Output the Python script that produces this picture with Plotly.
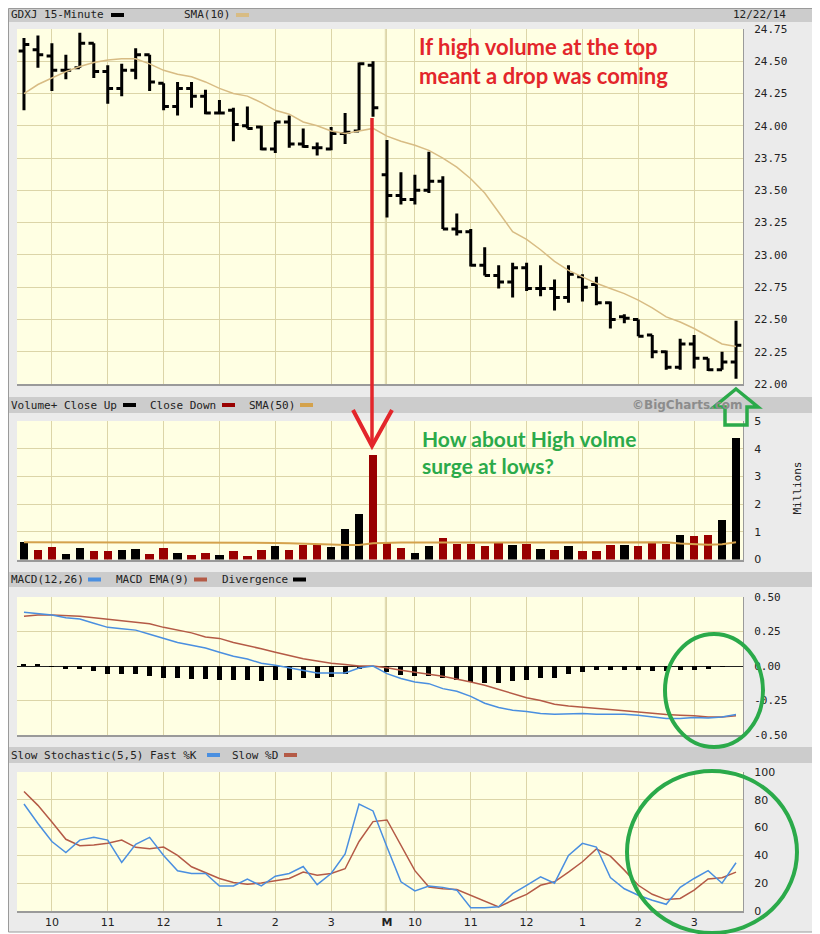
import plotly.graph_objects as go

# ---------------- data ----------------
bars = list(range(52))  # 15-minute bars, Fri 12/19 + Mon 12/22

opens = [24.58, 24.59, 24.54, 24.43, 24.45, 24.64, 24.42, 24.29, 24.43, 24.55,
         24.33, 24.15, 24.29, 24.23, 24.10, 24.12, 24.00, 23.99, 23.82, 24.03,
         23.86, 23.83, 23.82, 23.94, 23.96, 24.47, 23.62, 23.46,
         23.43, 23.50, 23.57, 23.20, 23.18, 22.92, 22.84, 22.79, 22.90, 22.74,
         22.74, 22.67, 22.83, 22.77, 22.63, 22.52, 22.50, 22.38, 22.25, 22.13,
         22.31, 22.20, 22.11, 22.17]
highs = [24.68, 24.70, 24.64, 24.55, 24.72, 24.64, 24.47, 24.48, 24.60, 24.55,
         24.33, 24.34, 24.34, 24.28, 24.20, 24.14, 24.15, 24.00, 24.03, 24.08,
         23.98, 23.87, 23.99, 24.10, 24.49, 24.50, 23.89, 23.64,
         23.62, 23.80, 23.61, 23.32, 23.20, 23.06, 22.92, 22.94, 22.94, 22.92,
         22.81, 22.92, 22.85, 22.83, 22.64, 22.54, 22.50, 22.38, 22.26, 22.35,
         22.38, 22.20, 22.25, 22.49]
lows = [24.12, 24.45, 24.27, 24.36, 24.45, 24.37, 24.17, 24.23, 24.36, 24.27,
        24.12, 24.08, 24.14, 24.09, 24.09, 23.88, 23.98, 23.81, 23.79, 23.83,
        23.83, 23.77, 23.81, 23.86, 23.96, 24.07, 23.29, 23.39,
        23.39, 23.48, 23.20, 23.15, 22.91, 22.84, 22.74, 22.67, 22.72, 22.68,
        22.57, 22.63, 22.64, 22.61, 22.43, 22.47, 22.37, 22.20, 22.11, 22.11,
        22.12, 22.10, 22.11, 22.04]
closes = [24.63, 24.55, 24.43, 24.43, 24.64, 24.42, 24.29, 24.43, 24.55, 24.34,
          24.15, 24.29, 24.23, 24.10, 24.10, 24.01, 23.98, 23.82, 24.03, 23.86,
          23.84, 23.83, 23.94, 23.95, 24.48, 24.14, 23.46, 23.43,
          23.50, 23.57, 23.20, 23.18, 22.92, 22.84, 22.79, 22.90, 22.74, 22.74,
          22.67, 22.85, 22.75, 22.63, 22.50, 22.51, 22.37, 22.25, 22.13, 22.31,
          22.20, 22.11, 22.17, 22.30]
sma10 = [24.25, 24.32, 24.37, 24.42, 24.46, 24.49, 24.51, 24.52, 24.52, 24.48,
         24.43, 24.40, 24.38, 24.34, 24.29, 24.25, 24.23, 24.18, 24.12, 24.09,
         24.03, 24.00, 23.96, 23.94, 23.96, 23.98, 23.92, 23.88,
         23.85, 23.81, 23.75, 23.68, 23.59, 23.48, 23.33, 23.18, 23.12, 23.04,
         22.95, 22.88, 22.83, 22.78, 22.74, 22.70, 22.65, 22.59, 22.52, 22.48,
         22.43, 22.37, 22.31, 22.29]

volume = [0.64, 0.34, 0.44, 0.19, 0.40, 0.30, 0.30, 0.34, 0.39, 0.19,
          0.40, 0.25, 0.18, 0.22, 0.18, 0.30, 0.13, 0.34, 0.48, 0.34,
          0.52, 0.55, 0.44, 1.09, 1.64, 3.77, 0.58, 0.40,
          0.25, 0.48, 0.76, 0.56, 0.56, 0.48, 0.62, 0.52, 0.56, 0.39,
          0.34, 0.48, 0.32, 0.32, 0.52, 0.52, 0.48, 0.58, 0.56, 0.88,
          0.85, 0.88, 1.43, 4.38]
vol_dir = ['U', 'D', 'D', 'U', 'U', 'D', 'D', 'U', 'U', 'D',
           'D', 'U', 'D', 'D', 'U', 'D', 'D', 'D', 'U', 'D',
           'D', 'D', 'U', 'U', 'U', 'D', 'D', 'D',
           'U', 'U', 'D', 'D', 'D', 'D', 'D', 'U', 'D', 'U',
           'D', 'U', 'D', 'D', 'D', 'U', 'D', 'D', 'D', 'U',
           'D', 'D', 'U', 'U']
vol_sma50 = [0.62, 0.62, 0.62, 0.62, 0.62, 0.62, 0.62, 0.62, 0.62, 0.62,
             0.62, 0.62, 0.62, 0.62, 0.62, 0.62, 0.62, 0.61, 0.60, 0.59,
             0.58, 0.56, 0.54, 0.52, 0.52, 0.59, 0.61, 0.61,
             0.61, 0.61, 0.61, 0.61, 0.61, 0.61, 0.62, 0.62, 0.62, 0.62,
             0.62, 0.62, 0.62, 0.62, 0.62, 0.62, 0.62, 0.62, 0.62, 0.58,
             0.55, 0.53, 0.55, 0.62]

macd = [0.39, 0.38, 0.37, 0.35, 0.34, 0.31, 0.28, 0.27, 0.26, 0.23,
        0.20, 0.17, 0.15, 0.13, 0.10, 0.07, 0.05, 0.02, 0.005, -0.015,
        -0.03, -0.05, -0.05, -0.05, -0.015, 0.0, -0.055, -0.09,
        -0.116, -0.128, -0.164, -0.183, -0.22, -0.27, -0.30, -0.32, -0.33, -0.345,
        -0.35, -0.345, -0.345, -0.35, -0.35, -0.35, -0.357, -0.37, -0.38, -0.38,
        -0.373, -0.376, -0.37, -0.352]
macd_ema = [0.36, 0.37, 0.37, 0.366, 0.36, 0.35, 0.34, 0.33, 0.32, 0.306,
            0.28, 0.26, 0.24, 0.21, 0.20, 0.17, 0.15, 0.125, 0.10, 0.077,
            0.053, 0.036, 0.02, 0.01, 0.0, 0.0, -0.012, -0.03,
            -0.043, -0.06, -0.075, -0.094, -0.116, -0.14, -0.17, -0.20, -0.23, -0.25,
            -0.277, -0.29, -0.30, -0.31, -0.316, -0.325, -0.333, -0.345, -0.352, -0.357,
            -0.36, -0.37, -0.37, -0.36]
divergence = [0.017, 0.01, -0.005, -0.02, -0.02, -0.036, -0.06, -0.06, -0.06, -0.07,
              -0.084, -0.084, -0.094, -0.094, -0.10, -0.10, -0.10, -0.11, -0.10, -0.10,
              -0.09, -0.084, -0.08, -0.06, -0.02, -0.005, -0.043, -0.067,
              -0.075, -0.075, -0.09, -0.10, -0.116, -0.12, -0.12, -0.11, -0.10, -0.09,
              -0.084, -0.06, -0.043, -0.03, -0.03, -0.03, -0.03, -0.036, -0.036, -0.03,
              -0.027, -0.02, -0.007, 0.0]

fast_k = [77, 63, 50, 42, 51, 53, 51, 35, 48, 53,
          40, 29, 27, 27, 18, 18, 23, 18, 25, 27,
          32, 19, 27, 41, 77, 72, 46, 21,
          14.5, 18, 17, 15, 2.4, 2.4, 3, 12.5, 18.5, 24.6,
          20, 40, 48.7, 46, 24, 16, 11.3, 7.7, 4.8, 17,
          23.4, 29, 20, 34.7]
slow_d = [86, 76, 64, 51.6, 47, 47.5, 48.7, 51, 45.8, 44.8,
          46, 40, 31.8, 27.5, 23.4, 20.5, 19.3, 20.2, 22, 23.4,
          28, 25.8, 27, 30.4, 50, 64.3, 65.5, 47,
          29, 17.3, 16, 15.4, 11.3, 7.2, 2.9, 7.7, 12, 18.5,
          21, 28, 35.4, 44.6, 39.5, 29.4, 18.5, 12, 8.2, 9,
          15, 23, 24, 28]

hour_ticks = [2, 6, 10, 14, 18, 22, 26, 28, 32, 36, 40, 44, 48]
hour_labels = ['10', '11', '12', '1', '2', '3', '<b>M</b>', '10', '11', '12', '1', '2', '3']
price_ticks = [22.0, 22.25, 22.5, 22.75, 23.0, 23.25, 23.5, 23.75, 24.0, 24.25, 24.5, 24.75]
vol_ticks = [0, 1, 2, 3, 4, 5]
macd_ticks = [-0.5, -0.25, 0.0, 0.25, 0.5]
stoch_ticks = [0, 20, 40, 60, 80, 100]

# ---------------- styling ----------------
# the page body keeps its 8px margin, so the figure is 8px smaller than the window
# and every position below is given in window pixels
OFF = 8
W, H = 820 - OFF, 934 - OFF
PLOT_BG = '#FFFFE3'
GRID = '#DCD5A8'
FRAME = '#9A9A9A'
MONO = 'DejaVu Sans Mono'
SANS = 'DejaVu Sans'
RED_NOTE = '#E3262B'
GREEN_NOTE = '#2BAA4A'
BLUE = '#4A8FE0'
BROWN = '#B45A46'


def X(p):
    return (p - OFF) / W


def Y(p):
    return 1 - (p - OFF) / H


x_dom = [X(17), X(743)]
x_range = [-0.5, 51.5]

fig = go.Figure()

# price
fig.add_trace(go.Ohlc(
    x=bars, open=opens, high=highs, low=lows, close=closes,
    increasing=dict(line=dict(color='black', width=3)),
    decreasing=dict(line=dict(color='black', width=3)),
    tickwidth=0.38, xaxis='x', yaxis='y', hoverinfo='skip', showlegend=False
))
fig.add_trace(go.Scatter(
    x=bars, y=sma10, mode='lines', line=dict(color='#D8BC84', width=1.5),
    xaxis='x', yaxis='y', hoverinfo='skip', showlegend=False
))

# volume
fig.add_trace(go.Bar(
    x=bars, y=volume, width=0.6,
    marker=dict(color=['#000000' if d == 'U' else '#990000' for d in vol_dir], line=dict(width=0)),
    xaxis='x2', yaxis='y2', hoverinfo='skip', showlegend=False
))
fig.add_trace(go.Scatter(
    x=bars, y=vol_sma50, mode='lines', line=dict(color='#D4A24C', width=2),
    xaxis='x2', yaxis='y2', hoverinfo='skip', showlegend=False
))

# macd
fig.add_trace(go.Bar(
    x=bars, y=divergence, width=0.36, marker=dict(color='black', line=dict(width=0)),
    xaxis='x3', yaxis='y3', hoverinfo='skip', showlegend=False
))
fig.add_trace(go.Scatter(
    x=bars, y=macd_ema, mode='lines', line=dict(color=BROWN, width=1.5),
    xaxis='x3', yaxis='y3', hoverinfo='skip', showlegend=False
))
fig.add_trace(go.Scatter(
    x=bars, y=macd, mode='lines', line=dict(color=BLUE, width=1.5),
    xaxis='x3', yaxis='y3', hoverinfo='skip', showlegend=False
))

# stochastic
fig.add_trace(go.Scatter(
    x=bars, y=slow_d, mode='lines', line=dict(color=BROWN, width=1.5),
    xaxis='x4', yaxis='y4', hoverinfo='skip', showlegend=False
))
fig.add_trace(go.Scatter(
    x=bars, y=fast_k, mode='lines', line=dict(color=BLUE, width=1.5),
    xaxis='x4', yaxis='y4', hoverinfo='skip', showlegend=False
))


def xaxis_cfg(anchor, labels=False):
    return dict(
        domain=x_dom, range=x_range, anchor=anchor, automargin=False,
        tickmode='array', tickvals=hour_ticks, ticktext=hour_labels,
        showticklabels=labels, ticks='', showgrid=True, gridcolor=GRID, gridwidth=1,
        zeroline=False, showline=True, linecolor=FRAME, linewidth=2,
        tickfont=dict(family=SANS, size=11, color='#222'),
        rangeslider=dict(visible=False), fixedrange=True
    )


def yaxis_cfg(anchor, top, bottom, rng, ticks, text, font_family):
    return dict(
        domain=[Y(bottom), Y(top)], range=rng, anchor=anchor, side='right', automargin=False,
        tickmode='array', tickvals=ticks, ticktext=text, ticks='',
        ticklabelstandoff=8,
        showgrid=True, gridcolor=GRID, gridwidth=1, zeroline=False,
        showline=True, linecolor=FRAME, linewidth=1,
        tickfont=dict(family=font_family, size=11, color='#222'), fixedrange=True
    )


fig.update_layout(
    template='none',
    width=W, height=H, margin=dict(l=0, r=0, t=0, b=0, pad=0, autoexpand=False),
    paper_bgcolor='#EBEBEB', plot_bgcolor=PLOT_BG,
    showlegend=False, hovermode=False, bargap=0,
    xaxis=xaxis_cfg('y'),
    yaxis=yaxis_cfg('x', 29, 384, [22.0, 24.75], price_ticks,
                    ['%.2f' % v for v in price_ticks], MONO),
    xaxis2=xaxis_cfg('y2'),
    yaxis2=yaxis_cfg('x2', 421, 559.5, [0, 5], vol_ticks,
                     [str(v) for v in vol_ticks], SANS),
    xaxis3=xaxis_cfg('y3'),
    yaxis3=yaxis_cfg('x3', 597, 735, [-0.5, 0.5], macd_ticks,
                     ['%.2f' % v for v in macd_ticks], MONO),
    xaxis4=xaxis_cfg('y4', labels=True),
    yaxis4=yaxis_cfg('x4', 772, 911, [0, 100], stoch_ticks,
                     [str(v) for v in stoch_ticks], SANS),
)
fig.update_layout(yaxis3=dict(zeroline=True, zerolinecolor='#222', zerolinewidth=1))

shapes = []
# white surround on the right / bottom and the chart frame
for x0, y0, x1, y1 in [(815, 0, 820, 934), (0, 932, 820, 934)]:
    shapes.append(dict(type='rect', xref='paper', yref='paper', x0=X(x0), x1=X(x1), y0=Y(y1), y1=Y(y0),
                       fillcolor='white', line=dict(width=0), layer='below'))
shapes.append(dict(type='rect', xref='paper', yref='paper', x0=X(8.5), x1=X(815), y0=Y(932), y1=Y(8.5),
                   fillcolor='rgba(0,0,0,0)', line=dict(color=FRAME, width=1), layer='below'))

# panel header bars
for top, bottom in [(9, 22), (397, 413), (572, 587), (747, 763)]:
    shapes.append(dict(type='rect', xref='paper', yref='paper', x0=X(9), x1=X(814), y0=Y(bottom), y1=Y(top),
                       fillcolor='#CCCCCC', line=dict(width=0), layer='below'))

# day separator (double grid line)
for xa, ya in [('x', 'y'), ('x2', 'y2'), ('x3', 'y3'), ('x4', 'y4')]:
    shapes.append(dict(type='line', xref=xa, yref=ya + ' domain', x0=25.88, x1=25.88, y0=0, y1=1,
                       line=dict(color=GRID, width=1), layer='below'))

annotations = []


def header_text(x, y, text):
    annotations.append(dict(xref='paper', yref='paper', x=X(x), y=Y(y), text=text, showarrow=False,
                            xanchor='left', yanchor='middle',
                            font=dict(family=MONO, size=11, color='#222')))


def swatch(x, y, color):
    shapes.append(dict(type='rect', xref='paper', yref='paper', x0=X(x), x1=X(x + 13),
                       y0=Y(y + 2), y1=Y(y - 2), fillcolor=color, line=dict(width=0)))


header_text(9, 15, 'GDXJ 15-Minute')
swatch(111, 15, 'black')
header_text(182, 15, 'SMA(10)')
swatch(236, 15, '#D8BC84')
annotations.append(dict(xref='paper', yref='paper', x=X(788), y=Y(15), text='12/22/14', showarrow=False,
                        xanchor='right', yanchor='middle', font=dict(family=MONO, size=11, color='#222')))

header_text(9, 405, 'Volume+ Close Up')
swatch(123, 405, 'black')
header_text(148, 405, 'Close Down')
swatch(222, 405, '#990000')
header_text(247, 405, 'SMA(50)')
swatch(300, 405, '#D4A24C')
annotations.append(dict(xref='paper', yref='paper', x=X(745), y=Y(405), text='©BigCharts.com', showarrow=False,
                        xanchor='right', yanchor='middle',
                        font=dict(family=SANS, size=12, color='#8C8C8C', weight='bold')))

header_text(9, 579.5, 'MACD(12,26)')
swatch(88, 579.5, BLUE)
header_text(114, 579.5, 'MACD EMA(9)')
swatch(194, 579.5, BROWN)
header_text(220, 579.5, 'Divergence')
swatch(293, 579.5, 'black')

header_text(9, 755, 'Slow Stochastic(5,5) Fast %K')
swatch(207, 755, BLUE)
header_text(230, 755, 'Slow %D')
swatch(284, 755, BROWN)

annotations.append(dict(xref='paper', yref='paper', x=X(805), y=Y(488), text='Millions', showarrow=False,
                        textangle=-90, font=dict(family=MONO, size=11, color='#222')))

# hand-drawn notes
annotations.append(dict(xref='paper', yref='paper', x=X(417), y=Y(31),
                        text='If high volume at the top<br>meant a drop was coming',
                        showarrow=False, xanchor='left', yanchor='top', align='left',
                        font=dict(family='Lato', size=22, color=RED_NOTE, weight='bold')))
annotations.append(dict(xref='paper', yref='paper', x=X(420), y=Y(424),
                        text='How about High volme<br>surge at lows?',
                        showarrow=False, xanchor='left', yanchor='top', align='left',
                        font=dict(family='Lato', size=21, color=GREEN_NOTE, weight='bold')))

# red arrow
shapes.append(dict(type='line', xref='paper', yref='paper', x0=X(372), x1=X(372), y0=Y(118), y1=Y(444),
                   line=dict(color=RED_NOTE, width=3.5)))
shapes.append(dict(type='path', xref='paper', yref='paper',
                   path='M %f,%f L %f,%f L %f,%f' % (X(353), Y(410), X(372), Y(446), X(392), Y(410)),
                   line=dict(color=RED_NOTE, width=4)))

# green hollow up arrow
pts = [(736, 389), (758, 407), (747, 407), (747, 425), (725, 425), (725, 407), (714, 407)]
path = 'M ' + ' L '.join('%f,%f' % (X(a), Y(b)) for a, b in pts) + ' Z'
shapes.append(dict(type='path', xref='paper', yref='paper', path=path,
                   line=dict(color=GREEN_NOTE, width=3.5), fillcolor='rgba(0,0,0,0)'))

# green ellipses
shapes.append(dict(type='circle', xref='paper', yref='paper', x0=X(665), x1=X(763), y0=Y(747), y1=Y(634),
                   line=dict(color=GREEN_NOTE, width=4)))
shapes.append(dict(type='circle', xref='paper', yref='paper', x0=X(627), x1=X(797), y0=Y(933), y1=Y(771),
                   line=dict(color=GREEN_NOTE, width=4)))

fig.update_layout(shapes=shapes, annotations=annotations)

fig.write_html("out.html")
